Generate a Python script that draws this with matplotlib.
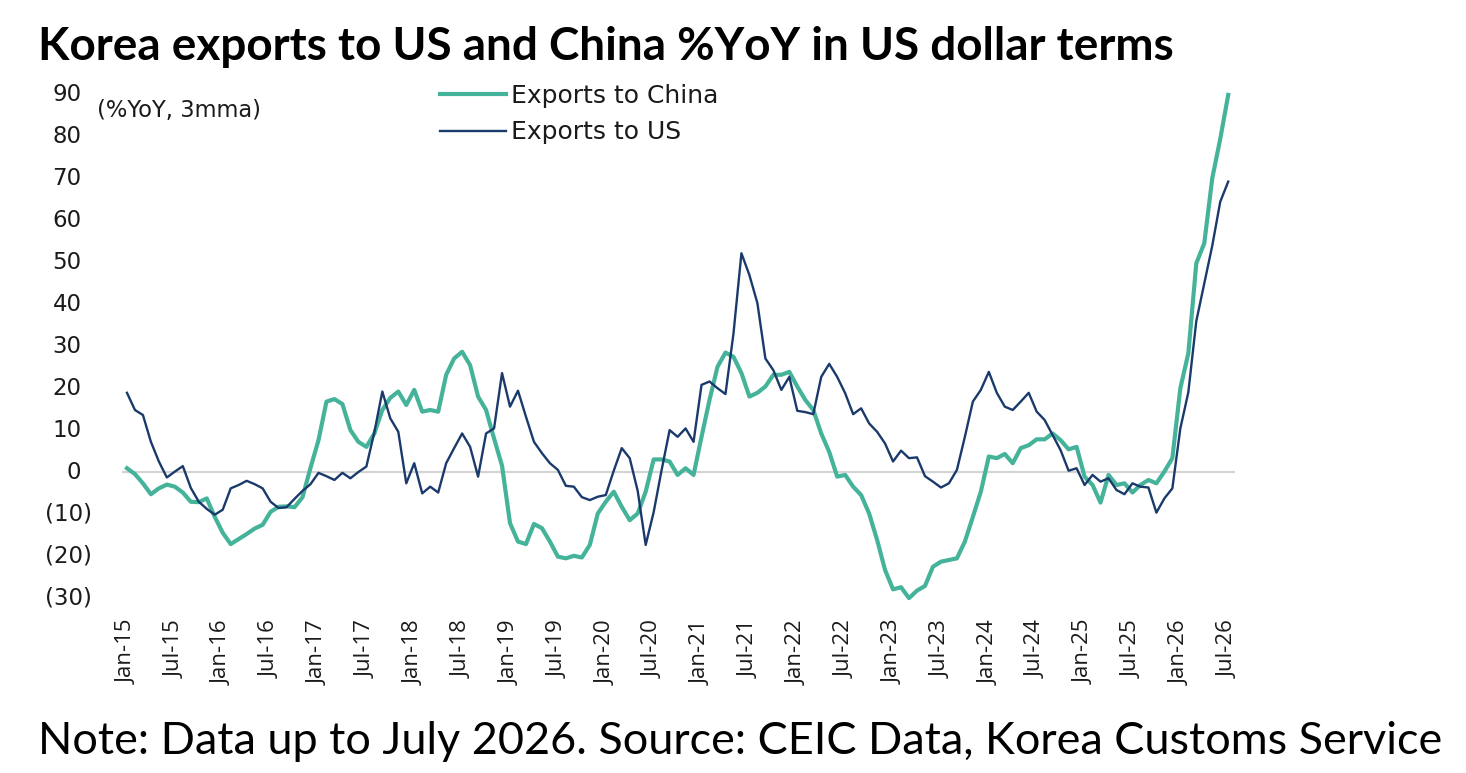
import matplotlib
matplotlib.use("Agg")
import matplotlib.pyplot as plt
from matplotlib.ticker import FixedLocator, NullFormatter

# ---------------- data ----------------
china = [0.9, -0.5, -2.7, -5.3, -3.9, -3.0, -3.5, -4.9, -7.1, -7.2,
         -6.3, -10.7, -14.5, -17.2, -16.0, -14.8, -13.5, -12.6, -9.5, -8.3,
         -8.2, -8.4, -6.0, 1.0, 7.6, 16.8, 17.4, 16.2, 10.0, 7.2,
         6.0, 9.2, 14.8, 17.7, 19.2, 16.0, 19.6, 14.4, 14.8, 14.4,
         23.2, 27.1, 28.7, 25.5, 18.0, 14.8, 8.0, 1.5, -12.2, -16.6,
         -17.2, -12.4, -13.4, -16.6, -20.2, -20.6, -20.0, -20.4, -17.4, -9.9,
         -7.1, -4.7, -8.3, -11.5, -9.9, -4.7, 3.0, 3.0, 2.5, -0.7,
         0.9, -0.7, 8.4, 17.2, 25.1, 28.5, 27.5, 23.6, 18.0, 18.9,
         20.4, 23.2, 23.2, 23.9, 20.4, 17.2, 14.8, 9.2, 4.8, -1.1,
         -0.7, -3.5, -5.5, -9.9, -16.2, -23.4, -28.0, -27.5, -30.1, -28.3,
         -27.2, -22.6, -21.4, -21.0, -20.6, -16.6, -10.7, -4.7, 3.7, 3.3,
         4.3, 2.1, 5.7, 6.4, 7.8, 7.8, 9.2, 7.6, 5.4, 6.0,
         -1.1, -3.1, -7.3, -0.7, -3.1, -2.7, -4.9, -3.1, -1.9, -2.7,
         0.1, 3.3, 20.0, 28.3, 49.8, 54.6, 70.1, 79.5, 90.0]

us = [18.9, 14.8, 13.6, 7.2, 2.5, -1.3, 0.1, 1.4, -3.8, -7.1,
      -8.8, -10.2, -9.0, -3.9, -3.1, -2.1, -2.9, -3.9, -7.1, -8.6,
      -8.4, -6.4, -4.5, -2.9, -0.2, -1.0, -1.9, -0.2, -1.5, 0.0,
      1.3, 9.5, 19.2, 12.8, 9.6, -2.7, 2.1, -5.1, -3.5, -4.9,
      2.1, 5.7, 9.2, 6.0, -1.1, 9.2, 10.4, 23.6, 15.6, 19.4,
      13.2, 7.2, 4.5, 2.1, 0.5, -3.3, -3.5, -6.0, -6.7, -5.9,
      -5.5, 0.3, 5.7, 3.3, -4.5, -17.4, -9.6, 0.5, 10.0, 8.4,
      10.4, 7.2, 20.8, 21.6, 20.0, 18.6, 33.0, 52.2, 47.0, 40.3,
      27.1, 24.3, 19.6, 22.7, 14.6, 14.3, 13.8, 22.7, 25.8, 22.7,
      18.8, 13.8, 15.2, 11.6, 9.6, 6.8, 2.5, 5.1, 3.3, 3.5,
      -1.0, -2.3, -3.7, -2.7, 0.5, 8.4, 16.8, 19.6, 23.9, 18.9,
      15.6, 14.8, 16.8, 18.9, 14.4, 12.4, 8.8, 5.2, 0.3, 0.9,
      -3.1, -0.7, -2.3, -1.5, -4.3, -5.3, -2.7, -3.5, -3.7, -9.7,
      -6.3, -3.9, 10.4, 19.0, 36.0, 45.0, 54.0, 64.5, 69.3]

tick_labels = ["Jan-15", "Jul-15", "Jan-16", "Jul-16", "Jan-17", "Jul-17",
               "Jan-18", "Jul-18", "Jan-19", "Jul-19", "Jan-20", "Jul-20",
               "Jan-21", "Jul-21", "Jan-22", "Jul-22", "Jan-23", "Jul-23",
               "Jan-24", "Jul-24", "Jan-25", "Jul-25", "Jan-26", "Jul-26"]
y_ticks = [-30, -20, -10, 0, 10, 20, 30, 40, 50, 60, 70, 80, 90]
y_tick_labels = ["(30)", "(20)", "(10)", "0", "10", "20", "30", "40", "50",
                 "60", "70", "80", "90"]

series_names = ["Exports to China", "Exports to US"]
title = "Korea exports to US and China %YoY in US dollar terms"
note = "Note: Data up to July 2026. Source: CEIC Data, Korea Customs Service"
unit_label = "(%YoY, 3mma)"

# ---------------- styling ----------------
TEAL = "#45B39A"
NAVY = "#1A3A6C"
TXT = "#1a1a1a"
W, H = 1466, 773
dpi = 100
fig = plt.figure(figsize=(W / dpi, H / dpi), dpi=dpi)
fig.patch.set_facecolor("white")

ax_left, ax_right = 121.7, 1235.0
ax_top, ax_bottom = 90.7, 601.9
ax_w = ax_right - ax_left
ax = fig.add_axes([ax_left / W, 1 - ax_bottom / H,
                   ax_w / W, (ax_bottom - ax_top) / H])

x = list(range(len(china)))
ax.axhline(0, color="#D4D4D4", lw=1.6, zorder=1)
l1, = ax.plot(x, china, color=TEAL, lw=3.0, solid_joinstyle="round",
              label=series_names[0], zorder=3, clip_on=False)
l2, = ax.plot(x, us, color=NAVY, lw=1.7, solid_joinstyle="round",
              label=series_names[1], zorder=4, clip_on=False)

ax.set_xlim(-0.66, 138.85)
ax.set_ylim(-31, 91)
for s in ax.spines.values():
    s.set_visible(False)

xfont = "Open Sans"
hfont = "DejaVu Sans"
ax.xaxis.set_major_locator(FixedLocator(list(range(0, len(china), 6))))
ax.set_xticklabels(tick_labels, rotation=90, fontsize=16, family=xfont,
                   color=TXT)
ax.tick_params(axis="x", length=0, pad=13)

# y tick labels: right aligned, positives leave room for the ")"
ax.yaxis.set_major_locator(FixedLocator(y_ticks))
ax.yaxis.set_major_formatter(NullFormatter())
ax.tick_params(axis="y", length=0)
ytr = ax.get_yaxis_transform()
for v, lab in zip(y_ticks, y_tick_labels):
    xr = 92.0 if v < 0 else 81.5
    ax.text((xr - ax_left) / ax_w, v, lab, transform=ytr, ha="right",
            va="center", fontsize=16.5, family=hfont, color=TXT)

fig.text(97 / W, 1 - 110 / H, unit_label, fontsize=16.3, family=hfont,
         color=TXT, va="center", ha="left")

leg = fig.legend(handles=[l1, l2], loc="upper left",
                 bbox_to_anchor=(440 / W, 1 - 84 / H), frameon=False,
                 prop={"family": hfont, "size": 18},
                 handlelength=2.65, handletextpad=0.2, labelspacing=0.5,
                 borderpad=0, borderaxespad=0)
for t in leg.get_texts():
    t.set_color(TXT)

fig.text(38 / W, 1 - 47 / H, title, fontsize=33, fontweight="bold",
         family="Lato", va="center", ha="left", color="black")
fig.text(38 / W, 1 - 741 / H, note, fontsize=32.4, family="Lato",
         va="center", ha="left", color="black")

fig.savefig("out.png", dpi=dpi, facecolor="white")
